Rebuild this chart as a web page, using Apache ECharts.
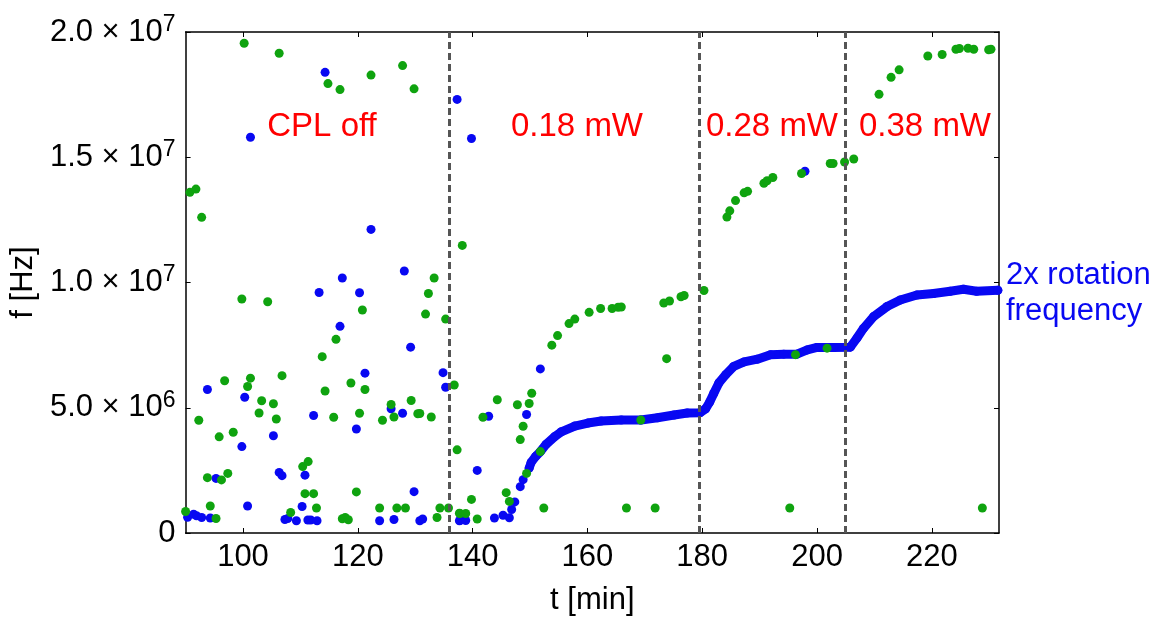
<!DOCTYPE html>
<html>
<head>
<meta charset="utf-8">
<script src="https://cdn.jsdelivr.net/npm/echarts@6/dist/echarts.min.js"></script>
<style>
  html, body { margin: 0; padding: 0; background: #fff; }
  #chart { width: 1163px; height: 621px; }
</style>
</head>
<body>
<div id="chart"></div>
<script>
// tick values
var xTicks = [100, 120, 140, 160, 180, 200, 220]
var yTicks = [0, 5e6, 1e7, 1.5e7, 2e7]
// laser power switch times [min]
var switchTimes = [136, 179.5, 204.9]

// green scatter: [t, f]
var greenPts = [
  [100.2, 19.55e6], [106.3, 19.15e6], [114.8, 17.94e6], [116.9, 17.70e6], [122.3, 18.28e6],
  [127.8, 18.66e6], [129.8, 17.73e6], [90.75, 13.6e6], [91.8, 13.73e6], [92.8, 12.6e6],
  [138.2, 11.48e6], [133.3, 10.18e6], [99.8, 9.34e6], [104.3, 9.23e6], [132.3, 9.56e6],
  [120.8, 8.90e6], [131.8, 8.74e6], [135.3, 8.54e6], [116.2, 7.73e6], [113.8, 7.04e6],
  [96.8, 6.08e6], [101.3, 6.18e6], [100.8, 5.85e6], [106.8, 6.28e6], [118.8, 5.99e6],
  [121.25, 5.73e6], [114.3, 5.67e6], [103.25, 5.28e6], [105.3, 5.16e6], [102.8, 4.79e6],
  [105.8, 4.55e6], [92.3, 4.50e6], [115.8, 4.62e6], [120.3, 4.78e6], [125.8, 5.13e6],
  [124.3, 4.50e6], [126.3, 4.63e6], [129.3, 5.29e6], [130.45, 4.76e6], [130.8, 4.77e6],
  [132.8, 4.63e6], [136.8, 5.91e6], [137.3, 3.32e6], [95.85, 3.84e6], [98.3, 4.02e6],
  [93.8, 2.21e6], [96.25, 2.12e6], [97.35, 2.38e6], [110.4, 2.65e6], [111.35, 2.85e6],
  [110.8, 1.57e6], [112.3, 1.57e6], [119.75, 1.64e6], [94.3, 1.08e6], [112.8, 1.0e6],
  [108.3, 0.82e6], [123.8, 1.0e6], [126.8, 1.0e6], [128.3, 1.0e6], [134.3, 1.0e6],
  [135.8, 1.0e6], [133.8, 0.62e6], [137.7, 0.79e6], [95.3, 0.58e6], [90.0, 0.86e6],
  [117.3, 0.57e6], [117.8, 0.62e6], [118.35, 0.53e6],
  [144.3, 5.32e6], [141.8, 4.62e6], [147.8, 5.12e6], [149.85, 5.17e6], [150.3, 5.58e6],
  [148.8, 4.26e6], [148.3, 3.73e6], [139.8, 1.34e6], [145.85, 1.61e6], [146.4, 1.26e6],
  [149.4, 2.38e6], [151.8, 3.25e6], [152.4, 1.0e6], [166.8, 1.0e6], [171.8, 1.0e6],
  [169.3, 4.51e6], [137.8, 0.78e6], [138.8, 0.78e6], [140.8, 0.56e6],
  [153.8, 7.50e6], [154.8, 7.88e6], [156.8, 8.36e6], [157.8, 8.54e6], [160.3, 8.81e6],
  [162.3, 8.96e6], [164.3, 8.96e6], [165.35, 9.01e6], [165.9, 9.02e6], [173.3, 9.18e6],
  [174.3, 9.26e6], [176.3, 9.43e6], [176.85, 9.48e6], [180.3, 9.68e6], [173.8, 6.96e6],
  [196.25, 7.12e6], [201.75, 7.38e6], [195.25, 1.0e6], [228.8, 1.0e6],
  [184.3, 12.61e6], [184.8, 12.86e6], [185.8, 13.27e6], [187.3, 13.58e6], [187.9, 13.64e6],
  [190.75, 13.96e6], [191.3, 14.06e6], [192.3, 14.19e6], [197.3, 14.35e6], [202.3, 14.75e6],
  [202.8, 14.75e6], [204.8, 14.81e6], [206.4, 14.93e6], [210.8, 17.51e6], [212.9, 18.19e6],
  [214.3, 18.49e6], [219.3, 19.04e6], [221.8, 19.10e6], [224.2, 19.31e6], [224.8, 19.34e6],
  [226.3, 19.35e6], [227.3, 19.31e6], [229.9, 19.29e6], [230.3, 19.31e6]
]

// blue scatter (outside the main curve)
var bluePts = [
  [114.3, 18.39e6], [101.3, 15.8e6], [137.3, 17.31e6], [139.8, 15.75e6], [122.3, 12.12e6],
  [128.1, 10.46e6], [117.3, 10.18e6], [113.26, 9.60e6], [120.3, 9.59e6], [116.9, 8.25e6],
  [129.2, 7.42e6], [121.25, 6.38e6], [134.85, 6.40e6], [135.3, 5.82e6], [93.8, 5.73e6],
  [100.3, 5.42e6], [112.3, 4.69e6], [125.8, 4.96e6], [127.8, 4.78e6], [119.75, 4.15e6],
  [105.3, 3.88e6], [99.8, 3.45e6], [106.3, 2.42e6], [106.8, 2.29e6], [95.3, 2.18e6],
  [110.8, 2.31e6], [129.8, 1.65e6], [100.8, 1.08e6], [110.3, 1.06e6],
  [90.35, 0.63e6], [91.4, 0.75e6], [91.9, 0.69e6], [92.8, 0.62e6], [94.3, 0.6e6],
  [107.3, 0.54e6], [107.8, 0.58e6], [109.3, 0.49e6], [111.3, 0.52e6], [111.8, 0.52e6],
  [112.9, 0.49e6], [123.8, 0.49e6], [126.3, 0.54e6], [130.8, 0.49e6], [131.3, 0.56e6],
  [137.7, 0.49e6], [151.8, 6.55e6], [142.8, 4.66e6], [149.4, 4.73e6], [140.8, 2.5e6],
  [137.8, 0.5e6], [138.8, 0.5e6], [143.8, 0.6e6], [145.3, 0.71e6], [146.4, 0.61e6],
  [146.8, 0.94e6], [147.35, 1.24e6], [148.3, 1.85e6], [148.8, 2.13e6], [197.9, 14.44e6]
]

// 2x rotation frequency (dense blue trace)
var rotCurve = [
  [149.85, 2.59e6], [150.2, 2.82e6], [151.0, 3.06e6], [151.8, 3.25e6], [152.8, 3.54e6],
  [154.3, 3.85e6], [155.45, 4.04e6], [157.8, 4.27e6], [160.1, 4.39e6], [162.4, 4.47e6],
  [165.9, 4.51e6], [169.3, 4.51e6], [172.2, 4.60e6], [175.1, 4.71e6], [177.4, 4.79e6],
  [179.6, 4.80e6], [180.6, 4.96e6], [181.3, 5.23e6], [182.0, 5.57e6], [182.9, 5.99e6],
  [184.1, 6.32e6], [185.5, 6.65e6], [187.3, 6.83e6], [189.6, 6.94e6], [191.9, 7.12e6],
  [194.2, 7.14e6], [196.5, 7.14e6], [198.3, 7.31e6], [200.0, 7.41e6], [202.9, 7.41e6],
  [205.8, 7.42e6], [206.95, 7.78e6], [208.1, 8.17e6], [209.85, 8.64e6], [212.2, 9.04e6],
  [214.5, 9.30e6], [217.4, 9.50e6], [220.3, 9.56e6], [223.2, 9.65e6], [225.5, 9.73e6],
  [227.8, 9.65e6], [231.5, 9.69e6]
]

var FONT = '"Liberation Sans", Arial, sans-serif'
var BLUE = '#0808f2'
var GREEN = '#0fa30f'

var chart = echarts.init(document.getElementById('chart'))

function yFmt(v) {
  if (v === 0) return '{m|0}'
  var e = Math.floor(Math.log10(v) + 1e-9)
  var m = (v / Math.pow(10, e)).toFixed(1)
  return '{m|' + m + ' \u00d7 10}{e|' + e + '}'
}

var xBase = {
  type: 'value', min: 90, max: 231.7,
  splitLine: { show: false },
  axisLine: { show: true, onZero: false, lineStyle: { color: '#000', width: 1.5 } },
  axisTick: { show: true, inside: true, length: 5, customValues: xTicks, lineStyle: { color: '#000' } }
}
var yBase = {
  type: 'value', min: 0, max: 2e7, interval: 5e6,
  splitLine: { show: false },
  axisLine: { show: true, onZero: false, lineStyle: { color: '#000', width: 1.5 } },
  axisTick: { show: true, inside: true, length: 5, lineStyle: { color: '#000' } }
}

function label(text, x, y) {
  return {
    type: 'text', x: x, y: y, z: 10,
    style: { text: text, fill: '#ff0000', font: '33px ' + FONT, textAlign: 'center', textVerticalAlign: 'middle' }
  }
}

var option = {
  backgroundColor: '#fff',
  animation: false,
  grid: { left: 183, right: 164, top: 32, bottom: 85 },
  xAxis: [
    Object.assign({}, xBase, {
      position: 'bottom',
      name: 't [min]', nameLocation: 'middle', nameGap: 52,
      nameTextStyle: { fontSize: 31, color: '#000', fontFamily: FONT },
      axisLabel: { customValues: xTicks, fontSize: 31, color: '#000', fontFamily: FONT, margin: 9 }
    }),
    Object.assign({}, xBase, { position: 'top', axisLabel: { show: false } })
  ],
  yAxis: [
    Object.assign({}, yBase, {
      position: 'left',
      name: 'f [Hz]', nameLocation: 'middle', nameGap: 140, nameRotate: 90,
      nameTextStyle: { fontSize: 31, color: '#000', fontFamily: FONT },
      axisLabel: {
        formatter: yFmt, margin: 10,
        rich: {
          m: { fontSize: 31, color: '#000', fontFamily: FONT, lineHeight: 38 },
          e: { fontSize: 23, color: '#000', fontFamily: FONT, lineHeight: 23, verticalAlign: 'top' }
        }
      }
    }),
    Object.assign({}, yBase, { position: 'right', axisLabel: { show: false } })
  ],
  series: [
    {
      type: 'line', data: [], z: 1,
      markLine: {
        silent: true, symbol: 'none', label: { show: false },
        lineStyle: { color: '#555', width: 3, type: [7, 4], opacity: 1 },
        data: switchTimes.map(function (t) { return { xAxis: t } })
      }
    },
    {
      name: '2x rotation frequency', type: 'line', data: rotCurve, z: 2,
      symbol: 'circle', symbolSize: 9, showAllSymbol: true,
      itemStyle: { color: BLUE, opacity: 1 },
      lineStyle: { color: BLUE, width: 9, cap: 'round', join: 'round' }
    },
    {
      type: 'scatter', data: bluePts, z: 2, symbolSize: 9,
      itemStyle: { color: BLUE, opacity: 1 }
    },
    {
      type: 'scatter', data: greenPts, z: 3, symbolSize: 9,
      itemStyle: { color: GREEN, opacity: 1 }
    }
  ],
  graphic: [
    label('CPL off', 322, 127),
    label('0.18 mW', 577, 127),
    label('0.28 mW', 772, 127),
    label('0.38 mW', 925, 127),
    { type: 'text', x: 1006, y: 257, z: 10, style: { text: '2x rotation\nfrequency', fill: BLUE, font: '31px ' + FONT, lineHeight: 36, textAlign: 'left', textVerticalAlign: 'top' } }
  ]
}

chart.setOption(option)
</script>
</body>
</html>
